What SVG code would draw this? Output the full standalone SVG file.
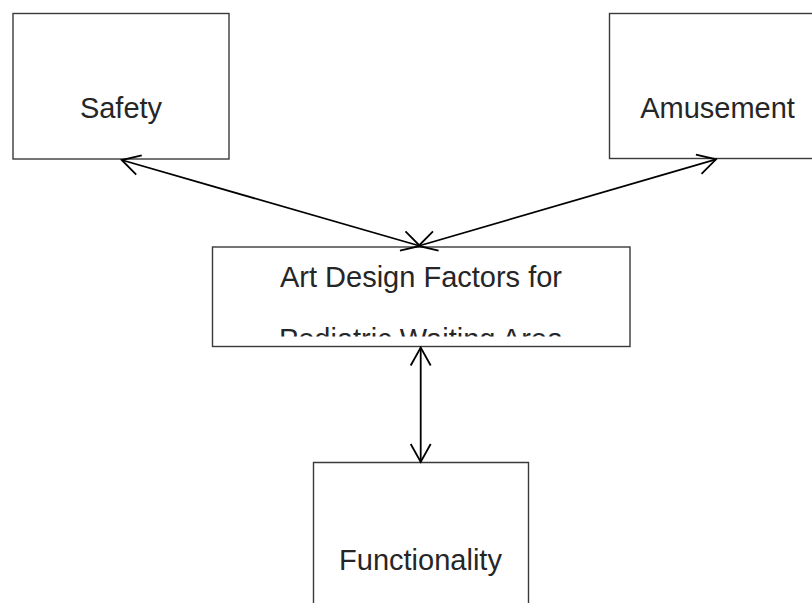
<svg xmlns="http://www.w3.org/2000/svg" width="812" height="603" viewBox="0 0 812 603">
<style>
.box{fill:#fff;stroke:#3a3a3a;stroke-width:1.4}
.lbl{font-family:"Liberation Sans",Arial,sans-serif;font-size:29px;fill:#262626;text-anchor:middle}
.conn{stroke:#000;stroke-width:1.8;fill:none;stroke-linejoin:miter}
</style>
<defs>
<clipPath id="cc"><rect x="213" y="247.5" width="416" height="89"/></clipPath>
</defs>
<rect width="812" height="603" fill="#fff"/>
<g id="safety">
<rect class="box" x="13" y="13.5" width="216" height="145.5"/>
<text class="lbl" x="121" y="118">Safety</text>
</g>
<g id="amusement">
<rect class="box" x="609.5" y="13.5" width="220" height="145"/>
<text class="lbl" x="717.5" y="118">Amusement</text>
</g>
<g id="center">
<rect class="box" x="212.5" y="247" width="417.5" height="99.5"/>
<g clip-path="url(#cc)">
<text class="lbl" x="421" y="287">Art Design Factors for</text>
<text class="lbl" x="421" y="349">Pediatric Waiting Area</text>
</g>
</g>
<g id="functionality">
<path class="box" d="M313.5,605 V462.5 H528.5 V605"/>
<text class="lbl" x="420.5" y="570">Functionality</text>
</g>
<g id="connectors">
<line class="conn" x1="121.7" y1="160" x2="420" y2="246"/>
<polyline class="conn" points="141.77,155.38 121.7,160 136.23,174.6"/>
<polyline class="conn" points="399.93,250.62 420,246 405.47,231.4"/>
<line class="conn" x1="716" y1="159.3" x2="418.5" y2="246"/>
<polyline class="conn" points="695.92,154.74 716,159.3 701.52,173.94"/>
<polyline class="conn" points="432.98,231.36 418.5,246 438.58,250.56"/>
<line class="conn" x1="420.7" y1="347.5" x2="420.7" y2="462"/>
<polyline class="conn" points="410.7,365.5 420.7,347.5 430.7,365.5"/>
<polyline class="conn" points="410.7,444 420.7,462 430.7,444"/>
</g>
</svg>
